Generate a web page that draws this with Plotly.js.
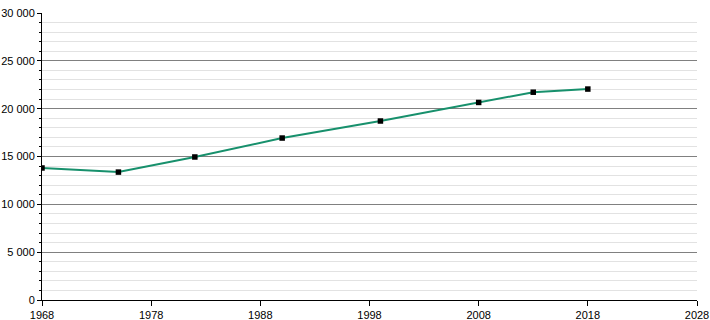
<!DOCTYPE html>
<html><head><meta charset="utf-8">
<script src="https://cdn.plot.ly/plotly-3.0.1.min.js"></script>
<style>html,body{margin:0;padding:0;background:#fff}#c{width:710px;height:320px}</style>
</head><body><div id="c"></div>
<script>
const years = [1968, 1975, 1982, 1990, 1999, 2008, 2013, 2018];
const population = [13800, 13370, 14950, 16930, 18710, 20650, 21720, 22050];
const yTickVals = [0, 5000, 10000, 15000, 20000, 25000, 30000];
const yTickText = ["0", "5 000", "10 000", "15 000", "20 000", "25 000", "30 000"];
const xTickVals = [1968, 1978, 1988, 1998, 2008, 2018, 2028];

Plotly.newPlot('c', [{
  x: years, y: population, type: 'scatter', mode: 'lines+markers',
  line: {color: '#17906c', width: 2},
  marker: {symbol: 'square', size: 5.5, color: '#000'},
  hoverinfo: 'x+y'
}], {
  width: 710, height: 320,
  margin: {l: 42, r: 13, t: 13, b: 20},
  paper_bgcolor: '#fff', plot_bgcolor: '#fff',
  font: {family: 'Liberation Sans, Arial, sans-serif', size: 11, color: '#000'},
  showlegend: false,
  xaxis: {
    range: [1968, 2028], tickvals: xTickVals, ticktext: xTickVals.map(String),
    showgrid: false, zeroline: false, showline: true, linecolor: '#000', linewidth: 1,
    ticks: 'outside', ticklen: 5, tickcolor: '#000', tickfont: {size: 11}
  },
  yaxis: {
    range: [0, 30000], tickvals: yTickVals, ticktext: yTickText,
    showgrid: true, gridcolor: '#808080', gridwidth: 1, zeroline: false,
    showline: true, linecolor: '#000', linewidth: 1,
    ticks: 'outside', ticklen: 4, tickcolor: '#000', tickfont: {size: 11},
    minor: {dtick: 1000, showgrid: true, gridcolor: '#e2e2e2', gridwidth: 1, ticks: 'outside', ticklen: 2, tickcolor: '#000'}
  }
}, {displayModeBar: false, staticPlot: true});
</script></body></html>
